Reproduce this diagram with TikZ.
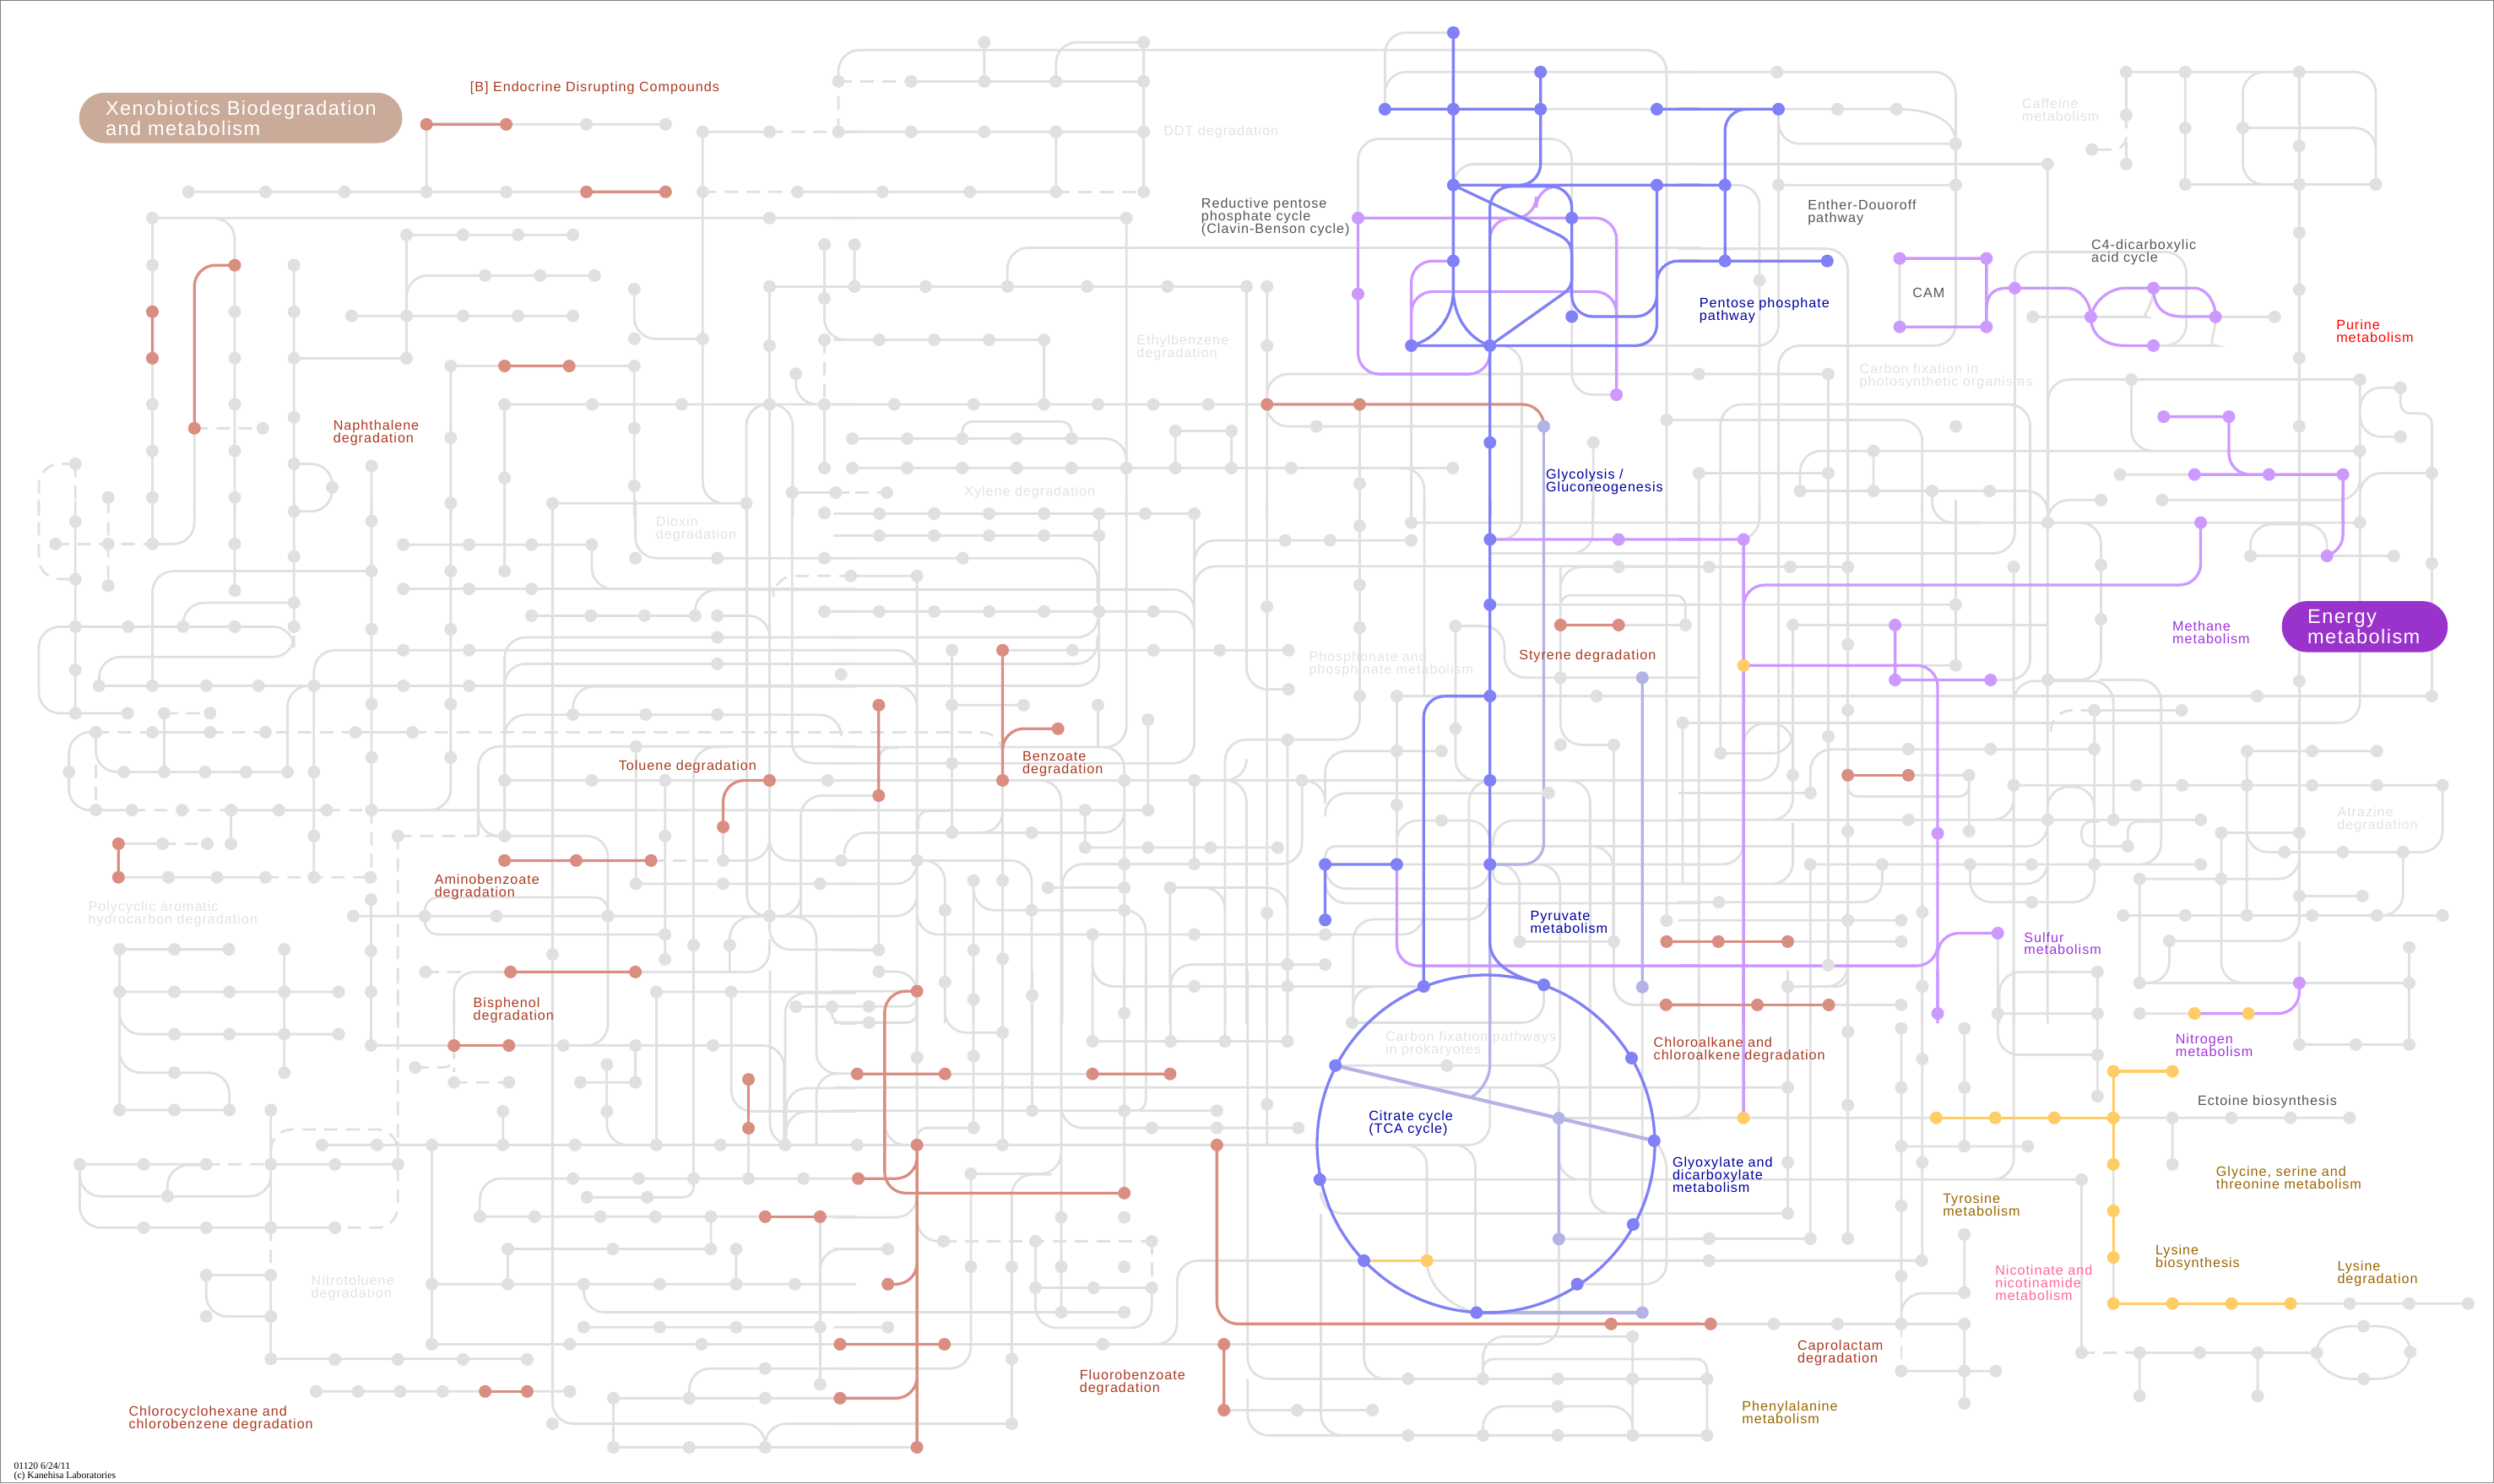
\documentclass[tikz,border=0pt]{standalone}
\usepackage{fontspec}
\setmainfont{Liberation Sans}[LetterSpace=6]
\newfontfamily\footfont{Liberation Serif}
\lineskiplimit=-10pt
\normallineskiplimit=-10pt
\definecolor{cg}{HTML}{E0E0E0}
\definecolor{cs}{HTML}{DA8E82}
\definecolor{cb}{HTML}{8080F7}
\definecolor{cp}{HTML}{CC99FF}
\definecolor{co}{HTML}{FFCC66}
\definecolor{cl}{HTML}{B3B3E6}
\definecolor{tb}{HTML}{AA3A22}
\definecolor{tf}{HTML}{E2E2E2}
\definecolor{td}{HTML}{555555}
\definecolor{tv}{HTML}{0000A0}
\definecolor{tp}{HTML}{A033DD}
\definecolor{ty}{HTML}{996600}
\definecolor{tk}{HTML}{FF6699}
\definecolor{pillx}{RGB}{202,170,152}
\definecolor{pille}{RGB}{153,51,204}
\pgfdeclarelayer{lg}\pgfdeclarelayer{lc}\pgfsetlayers{lg,lc,main}
\newcounter{dn}
\newcommand\Dots[2]{\foreach \p in {#2}{\stepcounter{dn}\node[#1] (d\arabic{dn}) at \p {};}}
\newcommand\Lab[4]{\node[lab,text=#3] (#1) at (#2) {#4};}
\tikzset{
 P1/.style={x=.063776mm,y=-.038265mm},
 P2/.style={x=.063776mm,y=-.038265mm,shift={(100mm,0mm)}},
 P3/.style={x=.060842mm,y=-.038265mm,shift={(200mm,0mm)}},
 P4/.style={x=.063776mm,y=-.038265mm,shift={(0mm,-60mm)}},
 P5/.style={x=.063776mm,y=-.038265mm,shift={(100mm,-60mm)}},
 P6/.style={x=.060842mm,y=-.038265mm,shift={(200mm,-60mm)}},
 P7/.style={x=.063776mm,y=-.038265mm,shift={(0mm,-115.7mm)}},
 P8/.style={x=.063776mm,y=-.038265mm,shift={(100mm,-115.7mm)}},
 P9/.style={x=.060842mm,y=-.038265mm,shift={(200mm,-115.7mm)}},
 ll/.style={line width=.28mm,rounded corners=2.5mm},
 sm/.style={rounded corners=1.2mm},
 gl/.style={ll,draw=cg},
 gd/.style={ll,draw=cg,dash pattern=on 1.6mm off 1mm},
 sl/.style={ll,draw=cs,line width=.33mm},
 bl/.style={ll,draw=cb,line width=.33mm},
 pl/.style={ll,draw=cp,line width=.33mm},
 ol/.style={ll,draw=co,line width=.33mm},
 ql/.style={ll,draw=cl,line width=.33mm},
 dd/.style={circle,inner sep=0,minimum size=1.5mm},
 dg/.style={dd,fill=cg}, ds/.style={dd,fill=cs}, db/.style={dd,fill=cb},
 dp/.style={dd,fill=cp}, dy/.style={dd,fill=co}, dl/.style={dd,fill=cl},
 lab/.style={anchor=north west,inner sep=0,align=left,font=\fontsize{4.6}{4.25}\selectfont}
}
\begin{document}
\begin{tikzpicture}[x=1mm,y=1mm]
\useasboundingbox (0,0) rectangle (295.4mm,-175.7mm);
\draw[color=black!50,line width=.15mm] (.07mm,-.07mm) rectangle (295.33mm,-175.63mm);
%% ---------- P1
\begin{scope}[P1]
\begin{pgfonlayer}{lg}
\draw[gl] (792,385)--(1236,385) (792,385)--(792,594) (350,594)--(1236,594)
 (1305,408)--(1429,408) (1557,252)--(1557,155)--(1610,155)
 (1305,408)--(1305,1558)--(1386,1558) (1026,1558)--(1386,1558)
 (1481,594)--(1590,594) (283,675)--(1590,675) (283,675)--(283,1600)
 (400,675)--(436,675)--(436,1600)
 (755,727)--(1064,727) (755,727)--(755,1109) (755,960)--(755,853)--(1104,853)
 (653,978)--(1064,978) (546,821)--(546,1600) (546,1109)--(755,1109)
 (1178,895)--(1178,1049)--(1305,1049)
 (1429,887)--(1429,1600) (1429,887)--(1590,887)
 (1531,757)--(1531,1052)--(1590,1052) (1531,1252)--(1531,1449)
 (1478,1157)--(1478,1252)--(1531,1252)
 (837,1133)--(1178,1133) (837,1133)--(837,1600) (1178,1133)--(1178,1600)
 (937,1252)--(1590,1252) (937,1252)--(937,1600)
 (1386,1600)--(1386,1252)--(1472,1252)--(1472,1600)
 (361,1326)--(361,1600)
 (546,1436)--(617,1436)--(617,1583)--(546,1583)
 (690,1443)--(690,1600) (1471,1525)--(1552,1525) (1557,408)--(1590,408);
\draw[gd] (1429,408)--(1557,408) (1557,408)--(1557,252) (1305,594)--(1481,594)
 (1531,1052)--(1531,1252) (361,1326)--(488,1326)
 (140,1436)--(72,1436)--(72,1600) (140,1436)--(140,1568) (201,1540)--(201,1600)
 (1552,1525)--(1592,1525);
\end{pgfonlayer}
\begin{pgfonlayer}{lc}
\draw[sl] (792,385)--(940,385) (1089,594)--(1236,594) (283,965)--(283,1109)
 (937,1133)--(1057,1133) (436,821)--(361,821)--(361,1326);
\end{pgfonlayer}
\Dots{dg}{(1089,385),(1236,385),(350,594),(493,594),(640,594),(792,594),(940,594),(1305,594),(1481,594),(1305,408),(1429,408),(1557,408),(1557,252),(283,675),(1429,675),(283,821),(283,1252),(283,1396),(283,1540),(436,965),(436,1109),(436,1252),(436,1396),(436,1540),(755,727),(860,727),(962,727),(1064,727),(901,853),(1003,853),(1104,853),(653,978),(755,978),(860,978),(962,978),(1064,978),(546,821),(546,965),(546,1109),(546,1292),(546,1436),(617,1509),(755,1109),(1178,895),(1178,1049),(1305,1049),(1429,887),(1429,1070),(1531,757),(1531,924),(1531,1052),(1531,1252),(1531,1449),(1478,1157),(837,1133),(1178,1133),(937,1252),(1100,1252),(1266,1252),(1429,1252),(1178,1326),(1178,1504),(837,1355),(937,1480),(488,1326),(140,1436),(201,1540),(690,1443),(837,1558),(1026,1558),(1386,1558),(1471,1525),(1552,1525)}
\Dots{ds}{(792,385),(940,385),(1089,594),(1236,594),(283,965),(283,1109),(436,821),(361,1326),(937,1133),(1057,1133)}
\Lab{tEndo}{872,252}{tb}{[B] Endocrine Disrupting Compounds}
\Lab{tNaph}{618,1300}{tb}{Naphthalene\\degradation}
\fill[fill=pillx,rounded corners=3mm] (147,287) rectangle (747,443);
\node[lab,text=white,font=\fontsize{6.7}{6.75}\selectfont] (tXeno) at (195,310) {Xenobiotics Biodegradation\\and metabolism};
\end{scope}
%% ---------- P2
\begin{scope}[P2]
\begin{pgfonlayer}{lg}
\draw[gl] (30,155)--(1527,155)--(1527,1600) (124,252)--(556,252) (260,131)--(260,252)
 (393,252)--(393,131)--(556,131) (556,131)--(556,594) (393,408)--(393,594)
 (-11,408)--(556,408) (-20,594)--(393,594) (-20,675)--(524,675) (524,675)--(524,1600)
 (19,757)--(19,887) (-20,887)--(747,887) (303,887)--(303,767)--(1590,767)
 (747,887)--(747,1600) (785,887)--(785,1600) (-20,1052)--(371,1052) (371,1052)--(371,1252)
 (-20,1252)--(785,1252) (785,1252)--(785,1158)--(1590,1158) (785,1252)--(785,1320)--(1299,1320)
 (957,1252)--(957,1600) (15,1358)--(524,1358)--(524,1449)
 (15,1449)--(1130,1449) (615,1334)--(719,1334) (615,1334)--(615,1449) (719,1334)--(719,1449)
 (1040,1449)--(1077,1449)--(1077,1600)
 (954,675)--(954,430)--(1351,430)--(1351,1222)--(1434,1222)
 (1004,338)--(1004,101)--(1131,101) (1004,338)--(1004,223)--(1590,223) (1293,338)--(1509,338)
 (1131,573)--(1131,508)--(1590,508) (1053,1070)--(1053,1600)
 (1199,1070)--(1258,1070)--(1258,1600) (1480,1070)--(1590,1070)
 (1391,1370)--(1391,1600) (1527,1300)--(1590,1300);
\draw[gl,sm] (219,1358)--(219,1305)--(422,1305)--(422,1358);
\draw[gd] (-11,252)--(124,252) (393,594)--(556,594) (-20,1525)--(79,1525);
\end{pgfonlayer}
\begin{pgfonlayer}{lc}
\draw[ql] (1299,1320)--(1299,1600);
\draw[pl] (954,675)--(1434,675)--(1434,1222) (954,675)--(954,1158)--(1199,1158)--(1199,1070)
 (1053,1070)--(1053,808)--(1131,808) (1053,1070)--(1053,903)--(1434,903)--(1434,960)
 (1199,740)--(1199,675)--(1260,675) (1240,675)--(1285,675)--(1285,577)--(1320,577);
\draw[sl] (785,1252)--(1299,1252)--(1299,1320);
\draw[bl] (1004,338)--(1293,338) (1293,223)--(1293,573)--(1220,573) (1509,338)--(1590,338)
 (1131,573)--(1590,573)
 (1199,1600)--(1199,577)--(1351,577)--(1351,980)--(1509,980)--(1509,808)--(1590,808)
 (1053,1070)--(1509,1070)--(1509,573);
\draw[draw=cb,line width=.33mm] (1131,101)--(1131,900) (1131,900) .. controls (1131,980) and (1100,1050) .. (1053,1070)
 (1131,900) .. controls (1131,980) and (1160,1050) .. (1199,1070)
 (1131,573)--(1330,730) .. controls (1345,745) and (1351,760) .. (1351,790)--(1351,860) .. controls (1351,885) and (1345,900) .. (1330,915)--(1199,1070);
\end{pgfonlayer}
\Dots{dg}{(260,131),(556,131),(124,252),(260,252),(393,252),(556,252),(124,408),(260,408),(393,408),(71,594),(233,594),(393,594),(556,594),(524,675),(19,757),(19,887),(151,887),(303,887),(451,887),(600,887),(747,887),(785,887),(785,1070),(65,1052),(167,1052),(269,1052),(371,1052),(93,1252),(240,1252),(371,1252),(471,1252),(574,1252),(676,1252),(877,1320),(615,1334),(719,1334),(15,1358),(117,1358),(219,1358),(320,1358),(422,1358),(15,1449),(117,1449),(219,1449),(320,1449),(422,1449),(524,1449),(615,1449),(719,1449),(830,1449),(1130,1449),(79,1525),(957,1497),(1527,1300),(1391,1370),(556,408)}
\Dots{db}{(1131,101),(1293,223),(1004,338),(1131,338),(1293,338),(1509,338),(1131,573),(1509,573),(1351,675),(1131,808),(1351,980),(1053,1070),(1199,1070),(1199,1370)}
\Dots{dp}{(954,675),(954,910),(1434,1222)}
\Dots{ds}{(785,1252),(957,1252)}
\Dots{dl}{(1299,1320)}
\Lab{tDDT}{592,387}{tf}{DDT degradation}
\Lab{tRed}{662,612}{td}{Reductive pentose\\phosphate cycle\\(Clavin-Benson cycle)}
\Lab{tEth}{542,1035}{tf}{Ethylbenzene\\degradation}
\Lab{tGly}{1302,1450}{tv}{Glycolysis /\\Gluconeogenesis}
\Lab{tXyl}{222,1503}{tf}{Xylene degradation}
\end{scope}
%% ---------- P3
\begin{scope}[P3]
\begin{pgfonlayer}{lg}
\draw[gl] (-20,223)--(520,223)--(520,445) (405,338)--(175,338)
 (405,338) .. controls (480,338) and (520,380) .. (520,440)
 (175,338)--(175,445)--(520,445) (-20,508)--(699,508) (699,508)--(699,1600)
 (520,445)--(520,1070)--(175,1070)--(175,1600) (175,338)--(175,1070)--(-20,1070)
 (175,573)--(520,573) (71,573)--(138,573)--(138,1600) (-20,770)--(310,770)--(310,1600)
 (20,1158)--(272,1158) (272,1158)--(272,1600) (-20,1300)--(455,1300)--(455,1600)
 (62,1600)--(62,1252)--(665,1252)--(665,1600) (411,800)--(411,1012)
 (670,981)--(850,981) .. controls (880,981) and (905,950) .. (905,892)
 (1026,981)--(1141,981) (905,1070)--(985,1070) .. controls (1010,1070) and (1026,1030) .. (1026,981)
 (635,892)--(635,780)--(969,780)--(969,1070)--(905,1070) (635,892)--(635,1600)
 (852,223)--(1338,223)--(1338,571) (852,223)--(852,356) (852,440)--(852,508)
 (967,223)--(967,571) (967,571)--(1338,571) (1189,223)--(1189,1600)
 (1189,223)--(1079,223)--(1079,571)--(1189,571) (1079,396)--(1338,396)--(1338,500)
 (700,1600)--(700,1175)--(1307,1175) (1307,1175)--(1307,1600) (862,1175)--(862,1396)--(1307,1396)
 (1386,1200)--(1307,1200)--(1307,1352)--(1386,1352)
 (1447,1465)--(1307,1465)--(1307,1540) (1447,1465)--(1447,1600) (840,1469)--(985,1469)
 (922,1548)--(1307,1548)--(1307,1500) (217,1520)--(217,1396)--(1307,1396) (360,1396)--(360,1520)
 (217,1520)--(699,1520)--(699,1600) (20,1465)--(272,1465) (20,1465)--(20,1600)
 (474,1520)--(474,1618)--(570,1618)
 (699,1600)--(699,1548)--(803,1548);
\draw[gl,sm] (1386,1200)--(1386,1280)--(1447,1280)--(1447,1465);
\draw[gd,rounded corners=1.5mm] (852,356)--(852,463)--(785,463);
\end{pgfonlayer}
\begin{pgfonlayer}{lc}
\draw[pl] (411,800)--(580,800) (411,1012)--(580,1012) (580,800)--(580,1012)
 (925,1290)--(1052,1290) (1052,1290)--(1052,1469)--(1095,1469) (985,1469)--(1274,1469) (1274,1469)--(1274,1600);
\draw[draw=cp,line width=.33mm] (580,960) .. controls (580,910) and (595,892) .. (620,892)--(735,892) .. controls (765,892) and (783,940) .. (783,980)
 (783,980) .. controls (783,1030) and (805,1070) .. (850,1070)--(905,1070)
 (783,980) .. controls (790,930) and (820,892) .. (850,892)--(985,892) .. controls (1010,892) and (1026,940) .. (1026,980)
 (905,892) .. controls (905,950) and (925,980) .. (960,980)--(1026,980);
\draw[bl] (-20,573)--(71,573) (175,338)--(71,338)--(71,808) (-20,808)--(270,808) (-20,338)--(175,338);
\end{pgfonlayer}
\Dots{dg}{(172,223),(290,338),(405,338),(520,445),(699,508),(175,573),(520,573),(138,868),(670,981),(1141,981),(852,223),(967,223),(1189,223),(852,356),(785,463),(852,508),(967,396),(1079,396),(1189,452),(967,571),(1189,571),(1338,571),(1189,720),(1189,897),(1189,1108),(1189,1320),(862,1175),(1307,1175),(1386,1200),(1386,1352),(520,1320),(20,1158),(272,1158),(360,1396),(1307,1396),(20,1465),(272,1465),(217,1520),(360,1520),(474,1520),(586,1520),(803,1548),(922,1548),(840,1469),(1447,1465)}
\Dots{dp}{(411,800),(580,800),(411,1012),(580,1012),(635,892),(783,981),(905,892),(1026,981),(905,1070),(925,1290),(1052,1290),(985,1469),(1130,1469),(1274,1469)}
\Dots{db}{(175,338),(71,573),(71,808),(270,808)}
\Lab{tCaf}{648,303}{tf}{Caffeine\\metabolism}
\Lab{tEnt}{231,617}{td}{Enther-Douoroff\\pathway}
\Lab{tC4}{783,740}{td}{C4-dicarboxylic\\acid cycle}
\Lab{tCAM}{435,890}{td}{CAM}
\Lab{tPen}{20,920}{tv}{Pentose phosphate\\pathway}
\Lab{tPur}{1260,988}{red}{Purine\\metabolism}
\Lab{tCfp}{332,1125}{tf}{Carbon fixation in\\photosynthetic organisms}
\end{scope}
%% ---------- P4
\begin{scope}[P4]
\begin{pgfonlayer}{lg}
\draw[gl] (140,-20)--(140,640) (283,116)--(361,116)--(361,-20) (283,-20)--(283,116)
 (283,555)--(283,200)--(690,200) (436,-20)--(436,260) (546,-20)--(546,372)
 (690,-20)--(690,940) (837,-20)--(837,940)--(780,940)
 (340,372)--(340,298)--(546,298) (140,372)--(546,372)--(546,466)--(184,466)--(184,555)
 (140,372)--(72,372)--(72,640)--(237,640) (184,555)--(1590,555)
 (583,555)--(583,445)--(1590,445) (534,822)--(534,555)--(583,555) (583,555)--(583,1148)
 (749,118)--(1099,118) (1099,118)--(1099,255)--(1590,257) (749,255)--(1590,255)
 (937,-20)--(937,200) (937,848)--(937,405)--(1590,405) (937,600)--(937,487)--(1590,487)
 (937,800)--(937,645)--(1562,645)--(1562,699)
 (1026,-20)--(1026,1600) (1180,-20)--(1180,160)--(1590,160)
 (1387,-20)--(1387,1268)--(1429,1268) (1429,-20)--(1429,1268)
 (1487,1200)--(1487,1268)--(1429,1268) (1487,1268)--(1487,895)--(1590,895)
 (1471,-20)--(1471,795)--(1590,795) (1532,325)--(1590,325)
 (987,338)--(1291,338) (1291,338)--(1291,258)--(1590,258) (1332,338)--(1429,338)--(1429,420)
 (1064,644)--(1064,557)--(1590,557) (178,699)--(128,699)--(128,940)--(178,940)
 (178,699)--(178,822)--(230,822) (230,822)--(534,822) (305,640)--(305,822)
 (283,699)--(390,699) (660,699)--(766,699)
 (178,940)--(245,940) (429,940)--(607,940) (690,940)--(1590,940)
 (888,1020)--(888,743)--(1590,743) (888,900)--(888,1020)--(937,1020)
 (1181,743)--(1181,1168) (1288,1600)--(1288,745)--(1350,745)
 (937,848)--(1590,848) (1235,848)--(1235,1400) (1343,992)--(1343,1096)
 (1343,1096)--(1429,1096)--(1429,1000) (1429,1000)--(1429,1096)--(1562,1096)
 (1181,1168)--(1590,1168) (937,848)--(937,1020) (937,1020)--(1129,1020)--(1129,1600)
 (220,1044)--(302,1044) (220,1148)--(493,1148) (429,940)--(429,1044)
 (656,1268)--(1590,1268)
 (1355,1358)--(1355,1272)--(1429,1268) (1429,1268)--(1516,1272)--(1516,1600)
 (1429,1268)--(1429,1372)--(1590,1372) (1180,1441)--(1429,1441)--(1429,1340) (1355,1358)--(1355,1441)
 (948,1441)--(843,1441)--(843,1600) (689,1217)--(689,1600)
 (222,1371)--(425,1371) (222,1371)--(222,1600) (528,1371)--(528,1504);
\draw[gl,rounded corners=1.6mm] (789,1268)--(789,1210)--(1129,1210)--(1129,1268) (789,1268)--(789,1325)--(1235,1325);
\draw[gd] (72,-20)--(72,225)--(140,225) (201,-20)--(201,245) (103,116)--(283,116)
 (1436,250)--(1436,215)--(1590,215) (305,640)--(390,640)
 (178,699)--(283,699) (390,699)--(660,699) (766,699)--(1590,699) (178,800)--(178,940)
 (245,940)--(429,940) (607,940)--(690,940) (690,940)--(690,1148)
 (739,1020)--(937,1020) (739,1020)--(739,1600) (302,1044)--(385,1044) (493,1148)--(688,1148)
 (790,1441)--(870,1441) (1209,1096)--(1343,1096);
\end{pgfonlayer}
\begin{pgfonlayer}{lc}
\draw[sl] (1429,848)--(1343,848)--(1343,992) (937,1096)--(1209,1096) (220,1044)--(220,1148) (948,1441)--(1180,1441);
\end{pgfonlayer}
\Dots{dg}{(140,47),(103,116),(201,116),(283,116),(436,116),(546,15),(690,45),(546,155),(690,200),(837,200),(937,200),(140,225),(201,245),(436,260),(546,298),(140,372),(238,372),(340,372),(436,372),(546,372),(690,380),(837,380),(749,118),(871,118),(987,118),(1099,118),(1180,160),(1332,160),(1531,160),(1531,20),(749,255),(871,255),(987,255),(1531,325),(987,338),(1097,338),(1197,338),(1291,338),(1332,338),(1332,405),(749,445),(871,445),(1332,487),(1562,520),(140,506),(184,555),(283,555),(383,555),(480,555),(583,555),(749,555),(871,555),(690,612),(837,612),(140,640),(237,640),(305,640),(390,640),(1064,644),(1199,644),(1332,644),(178,699),(283,699),(390,699),(493,699),(660,699),(766,699),(1181,743),(690,777),(837,777),(128,822),(230,822),(305,822),(381,822),(457,822),(534,822),(583,822),(937,848),(1099,848),(1235,848),(1537,848),(178,940),(245,940),(338,940),(429,940),(518,940),(607,940),(690,940),(583,1020),(739,1020),(937,1020),(1235,1020),(302,1044),(385,1044),(429,1044),(1343,1096),(1562,1096),(313,1148),(403,1148),(493,1148),(583,1148),(688,1148),(1181,1168),(1343,1168),(1523,1168),(689,1217),(656,1268),(789,1268),(922,1268),(1129,1268),(1429,1268),(1235,1325),(1288,1358),(1355,1358),(222,1371),(324,1371),(425,1371),(528,1371),(689,1376),(1026,1387),(1235,1402),(790,1441)}
\Dots{ds}{(220,1044),(220,1148),(937,1096),(1070,1096),(1209,1096),(948,1441),(1180,1441),(1429,848),(1343,992)}
\Lab{tDio}{1217,30}{tf}{Dioxin\\degradation}
\Lab{tTol}{1148,784}{tb}{Toluene degradation}
\Lab{tAmi}{806,1137}{tb}{Aminobenzoate\\degradation}
\Lab{tPol}{163,1220}{tf}{Polycyclic aromatic\\hydrocarbon degradation}
\end{scope}
%% ---------- P5
\begin{scope}[P5]
\begin{pgfonlayer}{lg}
\draw[gl] (-20,22)--(650,22) (650,22)--(650,795)--(-20,795) (650,160)--(650,105)--(1053,105)
 (650,240)--(650,185)--(1590,185) (-20,90)--(473,90) (473,22)--(473,555)--(-20,555)
 (-20,160)--(470,160)--(470,300) (12,215)--(135,215) (135,215)--(135,1600)
 (-20,257)--(650,257)--(650,370) (-20,325)--(650,325)--(650,400)
 (-20,405)--(472,405)--(472,330) (294,445)--(825,445) (-20,445)--(135,445)--(135,520)
 (-20,487)--(470,487)--(470,400) (-20,555)--(135,555)--(135,640)
 (200,445)--(200,1010) (200,615)--(333,615) (-20,895)--(64,895) (64,895)--(64,1373)
 (471,615)--(471,745) (524,-20)--(524,745)--(-20,745)
 (470,745)--(520,745)--(520,1010)--(0,1010)--(0,1070)
 (-20,940)--(564,940) (200,1010)--(294,1010)--(294,900)
 (294,1600)--(294,848) (294,848)--(403,848)--(403,1600)
 (447,940)--(447,1056) (447,1056)--(805,1056) (564,660)--(564,940) (520,848)--(520,1600)
 (650,848)--(650,1107) (405,1600)--(405,1107)--(850,1107)--(850,848) (378,1180)--(520,1180)
 (605,1180)--(605,1600) (605,1180)--(823,1180)--(823,1600) (605,1180)--(707,1180)--(707,1300)
 (240,1158)--(240,1600) (240,1200)--(240,1250)--(560,1250)--(560,1600)
 (135,1096)--(348,1096)--(348,1600) (135,1096)--(187,1096)--(187,1600)
 (-20,1096)--(135,1096) (-20,1168)--(135,1168)--(135,1080) (-20,1268)--(135,1268)--(135,1210)
 (135,1250)--(135,1325)--(1076,1325)--(1076,1260) (461,1325)--(461,1486)--(1076,1486)
 (707,1600)--(707,722)--(957,722)--(957,-20) (823,722)--(823,1600)
 (747,-20)--(747,566)--(825,566) (725,848)--(747,848)--(747,1600) (747,790)--(747,848)--(710,848)
 (785,-20)--(785,1600) (1053,50)--(1590,50) (1077,-20)--(1077,587)
 (1026,587)--(1590,587) (1026,587)--(1026,1108) (893,920)--(893,757)--(1109,757)
 (-20,848)--(1590,848) (850,848)--(893,848)--(893,900) (893,960)--(893,888)--(1308,888)
 (1160,1450)--(1160,850)--(1199,848) (1135,370)--(1226,370)--(1226,530)--(1590,530)
 (1135,370)--(1135,848)--(1199,848) (1199,848)--(1385,848)--(1385,1600)
 (893,1108)--(893,1183)--(1199,1183)--(1199,1108) (893,1108)--(893,1228)--(1590,1228)
 (1380,1052)--(1428,1052)--(1428,1340)
 (1026,1108)--(1590,1108) (1026,1040)--(1026,972)--(1199,972)--(1199,1040)
 (1205,1052)--(1205,972)--(1590,972)
 (1199,1108)--(1254,1108)--(1254,1347) (1280,1108)--(1329,1108)--(1329,1600)
 (1254,1347)--(1429,1347) (945,1600)--(945,1278)--(1197,1278)--(1197,1228)
 (606,1600)--(606,1418)--(893,1418)
 (-20,1373)--(64,1373) (64,1440)--(135,1440)--(135,1490)
 (1199,102)--(1258,102)--(1258,-20) (1199,145)--(1390,145)--(1390,-20) (1199,145)--(1590,145)
 (1330,260)--(1330,187)--(1590,187) (1438,367)--(1562,367) (1330,187)--(1330,738)--(1429,738)
 (1429,738)--(1429,1543)--(1527,1543)
 (1527,-20)--(1527,1282) (1199,304)--(1590,304) (1557,670)--(1557,1168);
\draw[gl,sm] (65,800)--(65,747)--(100,747) (137,1000)--(137,942)--(200,942) (893,1108)--(893,1052)--(1590,1052)
 (1205,1108)--(1205,1168)--(1590,1168) (1330,320)--(1330,275)--(1562,275)--(1562,367);
\draw[gd] (8,699)--(294,699)--(294,760);
\end{pgfonlayer}
\begin{pgfonlayer}{lc}
\draw[ql] (1199,1350)--(1199,1600) (1199,1108)--(1299,1108)--(1299,-20) (1482,530)--(1482,1488);
\draw[pl] (1199,102)--(1590,102) (1026,1108)--(1026,1422)--(1590,1422);
\draw[sl] (294,445)--(294,848) (294,760)--(294,688)--(397,688) (64,615)--(64,895) (1330,367)--(1438,367)
 (1527,1347)--(1590,1347) (1527,1543)--(1590,1543);
\draw[bl] (1076,1486)--(1076,587)--(1199,587) (893,1108)--(1026,1108) (893,1108)--(893,1280);
\draw[draw=cb,line width=.33mm] (1199,-20)--(1199,1350) .. controls (1199,1400) and (1225,1450) .. (1299,1480);
\end{pgfonlayer}
\Dots{dg}{(65,22),(167,22),(269,22),(371,22),(473,22),(559,22),(650,22),(65,90),(167,90),(269,90),(371,90),(473,90),(957,60),(1053,50),(819,105),(902,105),(1053,105),(220,160),(12,215),(135,215),(957,243),(785,310),(65,325),(167,325),(269,325),(371,325),(473,325),(574,325),(1438,187),(1562,367),(1135,370),(957,375),(200,445),(424,445),(574,445),(697,445),(825,445),(1330,530),(825,566),(957,587),(1026,587),(1397,587),(200,615),(333,615),(471,615),(564,660),(1135,688),(1557,670),(823,722),(1330,738),(1429,738),(1026,757),(1109,757),(200,795),(520,848),(650,848),(850,848),(1308,887),(1026,924),(447,940),(564,940),(1109,972),(200,1010),(348,1010),(447,1056),(564,1056),(680,1056),(805,1056),(135,1096),(520,1107),(650,1107),(240,1158),(294,1158),(378,1180),(520,1180),(605,1180),(187,1250),(348,1250),(520,1250),(785,1258),(1527,1282),(1254,1347),(1429,1347),(64,1373),(461,1325),(650,1325),(893,1325),(240,1373),(294,1400),(823,1418),(893,1418),(64,1440)}
\Dots{db}{(1199,102),(1199,304),(1199,587),(1199,848),(1199,1108),(893,1108),(1026,1108),(893,1280)}
\Dots{dl}{(1482,530)}
\Dots{dp}{(1438,102)}
\Dots{ds}{(294,445),(294,848),(397,688),(64,615),(64,895),(1330,367),(1438,367),(1527,1347)}
\Lab{tPho}{862,447}{tf}{Phosphonate and\\phosphinate metabolism}
\Lab{tSty}{1252,441}{tb}{Styrene degradation}
\Lab{tBen}{330,757}{tb}{Benzoate\\degradation}
\Lab{tPyr}{1273,1250}{tv}{Pyruvate\\metabolism}
\end{scope}
%% ---------- P6
\begin{scope}[P6]
\begin{pgfonlayer}{lg}
\draw[gl] (-20,50)--(1307,50) (138,-20)--(138,102)--(107,102) (-20,145)--(635,145)--(635,-20)
 (699,-20)--(699,1600) (699,50)--(803,50)--(803,537)--(699,537)
 (699,367)--(203,367) (665,-20)--(665,537)--(588,537) (-20,187)--(310,187)
 (310,-20)--(310,1600) (-20,304)--(520,304) (520,-20)--(520,492) (455,492)--(520,492)
 (203,367)--(203,970)--(-20,970) (203,980)--(203,1168)--(-20,1168)
 (-20,587)--(1447,587) (1447,-20)--(1447,587) (633,187)--(633,1600)
 (633,640)--(633,540)--(827,540)--(827,970) (800,537)--(920,537)--(920,1108)--(790,1108)
 (-20,670)--(1307,670)--(1307,50) (790,631)--(960,631) (790,631)--(790,1225)--(548,1225)--(548,1108)
 (107,700)--(107,672)--(203,672)--(203,764)--(62,764) (62,-20)--(62,764)
 (175,-20)--(175,848)--(-20,848) (20,-20)--(20,1600) (272,-20)--(272,1420)
 (237,887)--(237,752)--(790,752) (237,887)--(-20,887) (237,1108)--(237,1600)
 (428,832)--(546,832) (546,832)--(546,1005)
 (633,863)--(1468,863) (633,863)--(633,970)--(-20,970) (-20,970)--(997,970)
 (699,970)--(699,868)--(790,868)--(790,960) (699,970)--(699,1052)--(-20,1052) (699,970)--(699,1168)--(-20,1168)
 (237,1108)--(997,1108) (377,1108)--(377,1225)--(-20,1225)
 (1087,757)--(1340,757) (1087,757)--(1087,1268) (1087,1000)--(1087,1070)--(1468,1070)--(1468,863)
 (1391,1070)--(1391,1266)--(1340,1266) (1037,1010)--(1189,1010) (1037,1010)--(1037,1475)--(1189,1475)
 (878,1153)--(1189,1153)--(1189,1100) (1189,-20)--(1189,1345)--(936,1345) (1189,1345)--(1189,1475)
 (936,1345)--(936,1475)--(890,1475) (878,1153)--(878,1475) (878,1475)--(1403,1475) (1403,1365)--(1403,1600)
 (1189,1206)--(1312,1206) (846,1266)--(1468,1266) (1094,153)--(1373,153)
 (1094,153)--(1094,55)--(1243,55)--(1243,153) (-20,1108)--(107,1108)--(107,1060)
 (-20,1281)--(414,1281) (193,1347)--(414,1347) (455,-20)--(455,1600) (602,1321)--(602,1600)
 (605,1600)--(605,1441)--(796,1441) (796,1441)--(796,1600) (193,1486)--(310,1486)--(310,1440)
 (193,1486)--(193,1600) (273,1543)--(414,1543);
\draw[gl,sm] (855,1052)--(855,975)--(920,975) (855,1052)--(765,1052)--(765,975)--(800,975) (310,832)--(310,898)--(546,898)--(546,832);
\draw[gd] (790,631)--(705,631)--(705,670);
\end{pgfonlayer}
\begin{pgfonlayer}{lc}
\draw[pl] (-20,102)--(107,102) (107,102)--(107,1600) (107,492)--(107,243)--(997,243)--(997,50)
 (107,492)--(485,492)--(485,1600) (402,367)--(402,537) (402,537)--(588,537)
 (-20,1422)--(485,1422)--(485,1321)--(602,1321) (1274,-20)--(1274,153)--(1243,153);
\draw[sl] (310,832)--(428,832) (-20,1347)--(193,1347) (-20,1543)--(273,1543);
\end{pgfonlayer}
\Dots{dg}{(699,50),(1307,50),(40,187),(198,187),(310,187),(633,187),(803,181),(520,304),(203,367),(803,349),(1447,176),(1094,153),(1373,153),(310,427),(520,492),(699,537),(1189,540),(1107,587),(1447,587),(310,631),(790,631),(960,631),(272,712),(428,751),(588,751),(790,751),(62,764),(203,832),(546,832),(237,887),(633,863),(872,863),(961,863),(1087,863),(1214,863),(1340,863),(1468,863),(1087,757),(1214,757),(1340,757),(428,970),(699,970),(827,970),(997,970),(310,1005),(546,1005),(1037,1010),(1189,1010),(855,1052),(1160,1070),(1274,1070),(1391,1070),(237,1108),(377,1108),(548,1108),(668,1108),(790,1108),(997,1108),(878,1153),(1037,1153),(1189,1206),(1312,1206),(59,1225),(668,1225),(846,1266),(967,1266),(1087,1266),(1214,1266),(1340,1266),(1468,1266),(310,1281),(414,1281),(455,1256),(414,1347),(936,1345),(878,1475),(1403,1365),(1403,1475),(272,1420),(193,1486),(455,1486),(796,1441),(1189,427)}
\Dots{dp}{(107,102),(997,50),(1243,153),(402,367),(402,537),(588,537),(485,1012),(602,1321),(1189,1475)}
\Dots{dy}{(107,492)}
\Dots{ds}{(310,832),(428,832),(58,1347),(193,1347),(134,1543),(273,1543)}
\fill[fill=pille,rounded corners=3mm] (1155,293) rectangle (1478,451);
\node[lab,text=white,font=\fontsize{6.7}{6.75}\selectfont] (tEne) at (1204,318) {Energy\\metabolism};
\Lab{tMet}{941,353}{tp}{Methane\\metabolism}
\Lab{tSul}{652,1316}{tp}{Sulfur\\metabolism}
\Lab{tAtr}{1262,928}{tf}{Atrazine\\degradation}
\end{scope}
%% ---------- P7
\begin{scope}[P7]
\begin{pgfonlayer}{lg}
\draw[gl] (222,-20)--(222,413) (222,47)--(629,47) (222,47)--(222,178)--(629,178)
 (222,178)--(222,297)--(426,297)--(426,413) (222,413)--(426,413) (528,47)--(528,297)
 (689,47)--(689,213) (689,213)--(843,213) (945,213)--(1456,213)--(1456,521)
 (1129,-20)--(1129,213)--(1090,213) (843,213)--(843,70) (1180,213)--(1180,327) (1078,327)--(1180,327)
 (1127,272)--(1127,521)--(1180,521) (1026,-20)--(1026,1384)--(1421,1384)--(1421,1457)
 (1421,1457)--(1421,1384)--(1590,1384) (1139,1305)--(1139,1457) (1139,1305)--(1590,1305)
 (1139,1457)--(1590,1457) (1280,1305)--(1280,1213)--(1590,1213) (598,521)--(1590,521)
 (934,417)--(934,521) (1219,47)--(1219,521) (1358,47)--(1358,417)--(1590,417) (1219,47)--(1590,47)
 (503,413)--(503,581) (503,581)--(503,777) (148,581)--(383,581) (503,581)--(739,581)
 (148,600)--(148,680)--(503,680)--(503,600) (148,581)--(148,777)--(503,777) (503,777)--(622,777)
 (503,924)--(503,1183) (383,924)--(503,924) (383,924)--(383,1052)--(503,1052) (311,680)--(311,583)--(383,583)
 (503,1183)--(979,1183) (587,1284)--(901,1284) (979,1284)--(1058,1284) (802,521)--(802,1138)
 (802,952)--(1590,952) (943,843)--(943,952) (943,843)--(1320,843) (1320,743)--(1320,843)
 (891,743)--(891,625)--(1590,625) (891,743)--(1421,743) (1523,743)--(1590,743)
 (1288,-20)--(1288,625) (1390,469)--(1390,625)
 (1084,952)--(1084,1039)--(1590,1039) (1084,1085)--(1523,1085) (1523,743)--(1523,1262)
 (1523,880)--(1523,843)--(1590,843) (1367,843)--(1367,952) (802,1138)--(1590,1138)
 (1430,-20)--(1430,521)--(1470,521) (1458,521)--(1458,50)--(1590,50) (1478,93)--(1545,93)
 (1516,-20)--(1516,300)--(1590,300) (1516,521)--(1516,300)--(1590,300)
 (1460,521)--(1460,345)--(1590,345) (1460,521)--(1460,417)--(1520,417);
\draw[gl,sm] (1090,683)--(1288,683)--(1288,625) (1545,93)--(1545,145)--(1590,145);
\draw[gd] (843,213)--(843,295) (843,327)--(945,327)
 (739,-20)--(739,777)--(622,777) (503,540)--(503,473)--(739,473)--(739,510)
 (383,581)--(503,581) (503,777)--(503,924);
\draw[gd,sm] (771,281)--(843,281)--(843,245);
\end{pgfonlayer}
\begin{pgfonlayer}{lc}
\draw[sl] (843,213)--(945,213) (1390,318)--(1390,469) (1421,743)--(1523,743) (901,1284)--(979,1284);
\end{pgfonlayer}
\Dots{dg}{(222,47),(324,47),(426,47),(528,47),(629,47),(689,47),(1219,47),(1358,47),(1478,93),(1545,93),(324,178),(426,178),(528,178),(629,178),(689,213),(1046,213),(1180,213),(1324,213),(1127,272),(771,281),(324,297),(528,297),(843,327),(945,327),(1078,327),(1180,327),(222,413),(324,413),(426,413),(503,413),(934,417),(1127,417),(598,521),(700,521),(802,521),(934,521),(1068,521),(1219,521),(1338,521),(1458,521),(148,581),(267,581),(383,581),(503,581),(622,581),(739,581),(1064,625),(1186,625),(1288,625),(1390,625),(1492,625),(311,680),(1090,683),(1202,683),(891,743),(993,743),(1115,743),(1217,743),(1320,743),(267,777),(383,777),(503,777),(622,777),(943,843),(1138,843),(1320,843),(1367,843),(383,924),(503,924),(802,952),(943,952),(1084,952),(1225,952),(1367,952),(1476,952),(383,1052),(503,1052),(1084,1085),(1225,1085),(1367,1085),(1523,1085),(802,1138),(1058,1138),(1303,1138),(503,1183),(622,1185),(739,1185),(860,1185),(979,1185),(1421,1213),(1523,1262),(587,1284),(665,1284),(743,1284),(822,1284),(1058,1284),(1139,1305),(1280,1305),(1421,1305),(1026,1384),(1139,1457),(1280,1457),(1421,1457)}
\Dots{ds}{(843,213),(945,213),(1390,318),(1390,469),(1421,743),(1523,743),(901,1284),(979,1284),(1560,1138),(1560,1305)}
\Lab{tBis}{878,62}{tb}{Bisphenol\\degradation}
\Lab{tNit}{577,922}{tf}{Nitrotoluene\\degradation}
\Lab{tChl}{238,1327}{tb}{Chlorocyclohexane and\\chlorobenzene degradation}
\node[lab,text=black,font=\fontsize{3.3}{3.1}\footfont] (tFoot) at (25,1502) {01120 6/24/11\\(c) Kanehisa Laboratories};
\end{scope}
%% ---------- P8
\begin{scope}[P8]
\begin{pgfonlayer}{lg}
\draw[gl] (-20,45)--(135,45) (135,-20)--(135,521) (187,17)--(187,173)--(294,173) (294,-20)--(294,521) (240,-20)--(240,468)
 (349,-20)--(349,415) (403,-20)--(403,1040) (520,-20)--(520,670)
 (461,0)--(461,200) (461,0)--(461,30)--(1076,30) (606,20)--(606,200) (707,-20)--(707,200)
 (823,-20)--(823,200) (461,200)--(823,200) (187,301)--(461,301) (-20,343)--(1590,343)
 (-20,415)--(692,415) (403,420)--(403,468)--(843,468)
 (-20,521)--(1199,521)--(1199,340) (785,-20)--(785,521) (1040,521)--(1082,521)--(1082,880)
 (1130,521)--(1172,521)--(1172,1040) (883,628)--(1590,628) (1327,560)--(1327,628)--(1380,628)
 (885,680)--(885,733)--(1590,733) (885,733)--(885,1420)--(920,1420) (1385,-20)--(1385,733)--(1430,733)
 (1327,438)--(1590,438) (1327,812)--(1590,812) (912,275)--(1119,275)
 (1119,275)--(1327,275)--(1327,1138)--(186,1138) (943,142)--(1299,142)--(1299,25)
 (945,142)--(945,30)--(1000,30) (1329,-20)--(1329,275)--(1290,275)
 (590,1138)--(618,1138)--(618,879)--(965,879) (1082,879)--(1590,879)
 (1082,880) .. controls (1082,950) and (1120,1020) .. (1174,1040)
 (965,879)--(965,1245)--(1010,1245) (749,-20)--(749,1245)--(1590,1245)
 (749,1245)--(749,1420)--(1590,1420) (705,1342)--(981,1342)
 (1186,1245)--(1186,1114)--(1464,1114) (1464,1114)--(1464,1420)
 (1186,1420)--(1186,1330)--(1464,1330)--(1464,1400) (1429,-20)--(1429,87)--(1526,87)
 (1482,32)--(1482,1040) (1510,510)--(1527,530)--(1527,952)--(1361,952)
 (-20,745)--(135,745)--(135,690) (-20,843)--(81,843) (-20,1085)--(81,1085) (-20,1039)--(520,1039)
 (355,819)--(355,1087)--(571,1087)--(571,962) (355,963)--(571,963)
 (135,760)--(135,819)--(184,819) (235,610)--(235,1213)--(-20,1213) (235,610)--(403,610)--(403,560)
 (311,1384)--(311,612)--(385,612) (-20,1384)--(311,1384) (-20,1457)--(135,1457) (75,470)--(75,521)--(110,521);
\draw[gl,sm] (-20,92)--(135,92)--(135,45) (-20,142)--(135,142)--(135,45) (135,521)--(135,468)--(240,468)
 (520,415)--(560,415)--(560,-20) (1186,1245)--(1186,1184)--(1590,1184);
\draw[gd] (184,819)--(571,819) (571,819)--(571,962);
\end{pgfonlayer}
\begin{pgfonlayer}{lc}
\draw[ql] (1199,-20)--(1199,340)--(1165,372) (1327,438)--(1327,812);
\draw[ql,line width=.42mm] (912,275)--(1504,508) (1174,1040)--(1482,1040);
\draw[ol] (965,879)--(1082,879);
\draw[sl] (135,45)--(75,45)--(75,670)--(520,670) (26,625)--(135,625)--(135,521) (135,521)--(135,1457)
 (81,952)--(135,952)--(135,880) (-20,1305)--(135,1305)--(135,1260) (24,301)--(187,301) (461,301)--(605,301)
 (-20,1138)--(186,1138) (692,521)--(692,1075)--(1590,1075) (705,1138)--(705,1342) (1526,87)--(1590,87);
\draw[bl] (1076,-20)--(1076,30);
\end{pgfonlayer}
\Dots{dg}{(187,17),(650,30),(823,30),(240,70),(349,58),(520,113),(46,92),(46,142),(294,173),(943,142),(461,200),(606,200),(707,200),(823,200),(135,250),(240,246),(1119,275),(349,415),(520,415),(692,415),(785,395),(240,468),(571,468),(692,468),(843,468),(24,521),(294,521),(235,610),(403,745),(520,745),(184,819),(355,819),(571,819),(81,843),(235,898),(311,898),(403,898),(520,898),(355,963),(463,963),(571,963),(403,1039),(520,1039),(81,1085),(480,1138),(311,1183),(1047,1245),(1186,1245),(1325,1245),(1464,1245),(1464,1114),(1325,1330),(841,1342),(981,1342),(311,1384),(1047,1420),(1186,1420),(1325,1420),(1464,1420)}
\Dots{ds}{(135,45),(24,301),(187,301),(461,301),(605,301),(135,521),(692,521),(26,625),(520,670),(81,952),(186,1138),(705,1138),(705,1342),(1424,1075),(135,1457),(1526,87)}
\Dots{dy}{(1082,879)}
\Dots{dl}{(1327,438),(1327,812),(1482,32),(1482,1040)}
\Lab{tCpr}{1004,168}{tf}{Carbon fixation pathways\\in prokaryotes}
\Lab{tCit}{973,413}{tv}{Citrate cycle\\(TCA cycle)}
\Lab{tFlu}{436,1215}{tb}{Fluorobenzoate\\degradation}
\Lab{tCal}{1502,186}{tb}{Chloroalkane and\\chloroalkene degradation}
\Lab{tGlx}{1537,556}{tv}{Glyoxylate and\\dicarboxylate\\metabolism}
\end{scope}
%% ---------- circle
\begin{pgfonlayer}{lc}
\draw[bl] (176mm,-135.5mm) circle[radius=20mm];
\end{pgfonlayer}
\begin{scope}[P8]
\Dots{db}{(1076,30),(1299,25),(1462,252),(912,275),(1504,508),(883,628),(1465,767),(965,879),(1361,952),(1174,1040)}
\end{scope}
%% ---------- P9
\begin{scope}[P9]
\begin{pgfonlayer}{lg}
\draw[gl] (273,87)--(414,87) (193,-20)--(193,733) (310,-20)--(310,811)
 (20,-20)--(20,437)--(-20,437) (-20,437)--(1287,437) (942,437)--(942,581) (-20,343)--(193,343)
 (-20,733)--(193,733) (237,-20)--(237,811) (-20,811)--(237,811) (-20,879)--(454,879)
 (-20,628)--(765,628) (633,-20)--(633,628)--(590,628) (765,628)--(765,1164) (878,1164)--(1223,1164)
 (878,1164)--(878,1298) (1108,1164)--(1108,1298) (414,160)--(414,1075) (414,1221)--(598,1221)
 (537,1075)--(537,1321) (-20,1075)--(537,1075) (414,1075)--(414,980)--(537,980) (537,798)--(537,980)
 (537,160)--(537,525) (414,525)--(660,525) (455,-20)--(455,879) (602,114)--(796,114) (602,114)--(602,-20)
 (602,114)--(602,242)--(796,242) (796,-20)--(796,370) (878,114)--(985,114) (1189,80)--(1189,210)
 (1189,210)--(1403,210) (1403,19)--(1403,210) (1172,1012)--(1518,1012) (827,293)--(827,1012)
 (-20,1245)--(36,1245) (-20,1420)--(36,1420) (36,1245)--(36,1420);
\draw[gl,sm] (193,30)--(310,30)--(310,-10) (-20,1184)--(36,1184)--(36,1245);
\draw[draw=cg,line width=.28mm] (1223,1164) .. controls (1223,1110) and (1260,1082) .. (1290,1082)--(1340,1082)
 .. controls (1380,1082) and (1405,1120) .. (1405,1162) .. controls (1405,1210) and (1380,1245) .. (1340,1245)
 --(1290,1245) .. controls (1260,1245) and (1223,1210) .. (1223,1164);
\draw[gd] (765,1164)--(878,1164) (414,1075)--(414,1221);
\end{pgfonlayer}
\begin{pgfonlayer}{lc}
\draw[pl] (107,-20)--(107,437) (485,-20)--(485,114) (985,114)--(1189,114)--(1189,19);
\draw[sl] (-20,87)--(273,87) (-20,1075)--(43,1075);
\draw[ol] (482,437)--(827,437) (827,293)--(942,293) (827,293)--(827,581) (827,725)--(827,869) (827,1012)--(1172,1012);
\end{pgfonlayer}
\Dots{dg}{(193,30),(193,343),(193,575),(193,733),(310,170),(310,398),(310,811),(237,811),(40,811),(40,879),(454,879),(455,30),(455,255),(455,575),(414,87),(414,160),(414,343),(414,525),(414,709),(414,927),(414,1075),(414,1221),(537,160),(537,343),(537,525),(660,525),(537,798),(537,978),(537,1075),(537,1221),(537,1321),(598,1221),(166,1075),(290,1075),(602,114),(796,114),(796,242),(796,370),(878,114),(1189,210),(1299,210),(1403,210),(942,437),(1057,437),(1172,437),(1287,437),(942,581),(765,628),(765,1164),(878,1164),(995,1164),(1108,1164),(1223,1164),(878,1298),(1108,1298),(1314,1082),(1405,1162),(1314,1245),(1287,1012),(1403,1012),(1518,1012),(36,1245),(36,1420)}
\Dots{dp}{(485,114)}
\Dots{dy}{(107,437),(985,114),(1090,114),(827,293),(942,293),(482,437),(597,437),(712,437),(827,437),(827,581),(827,725),(827,869),(827,1012),(942,1012),(1057,1012),(1172,1012)}
\Dots{ds}{(43,1075)}
\Lab{tNtr}{947,176}{tp}{Nitrogen\\metabolism}
\Lab{tEct}{990,366}{td}{Ectoine biosynthesis}
\Lab{tGcy}{1026,586}{ty}{Glycine, serine and\\threonine metabolism}
\Lab{tTyr}{494,669}{ty}{Tyrosine\\metabolism}
\Lab{tLyb}{908,828}{ty}{Lysine\\biosynthesis}
\Lab{tLyd}{1262,878}{ty}{Lysine\\degradation}
\Lab{tNic}{596,891}{tk}{Nicotinate and\\nicotinamide\\metabolism}
\Lab{tCap}{211,1124}{tb}{Caprolactam\\degradation}
\Lab{tPhe}{103,1312}{ty}{Phenylalanine\\metabolism}
\end{scope}
\end{tikzpicture}
\end{document}
